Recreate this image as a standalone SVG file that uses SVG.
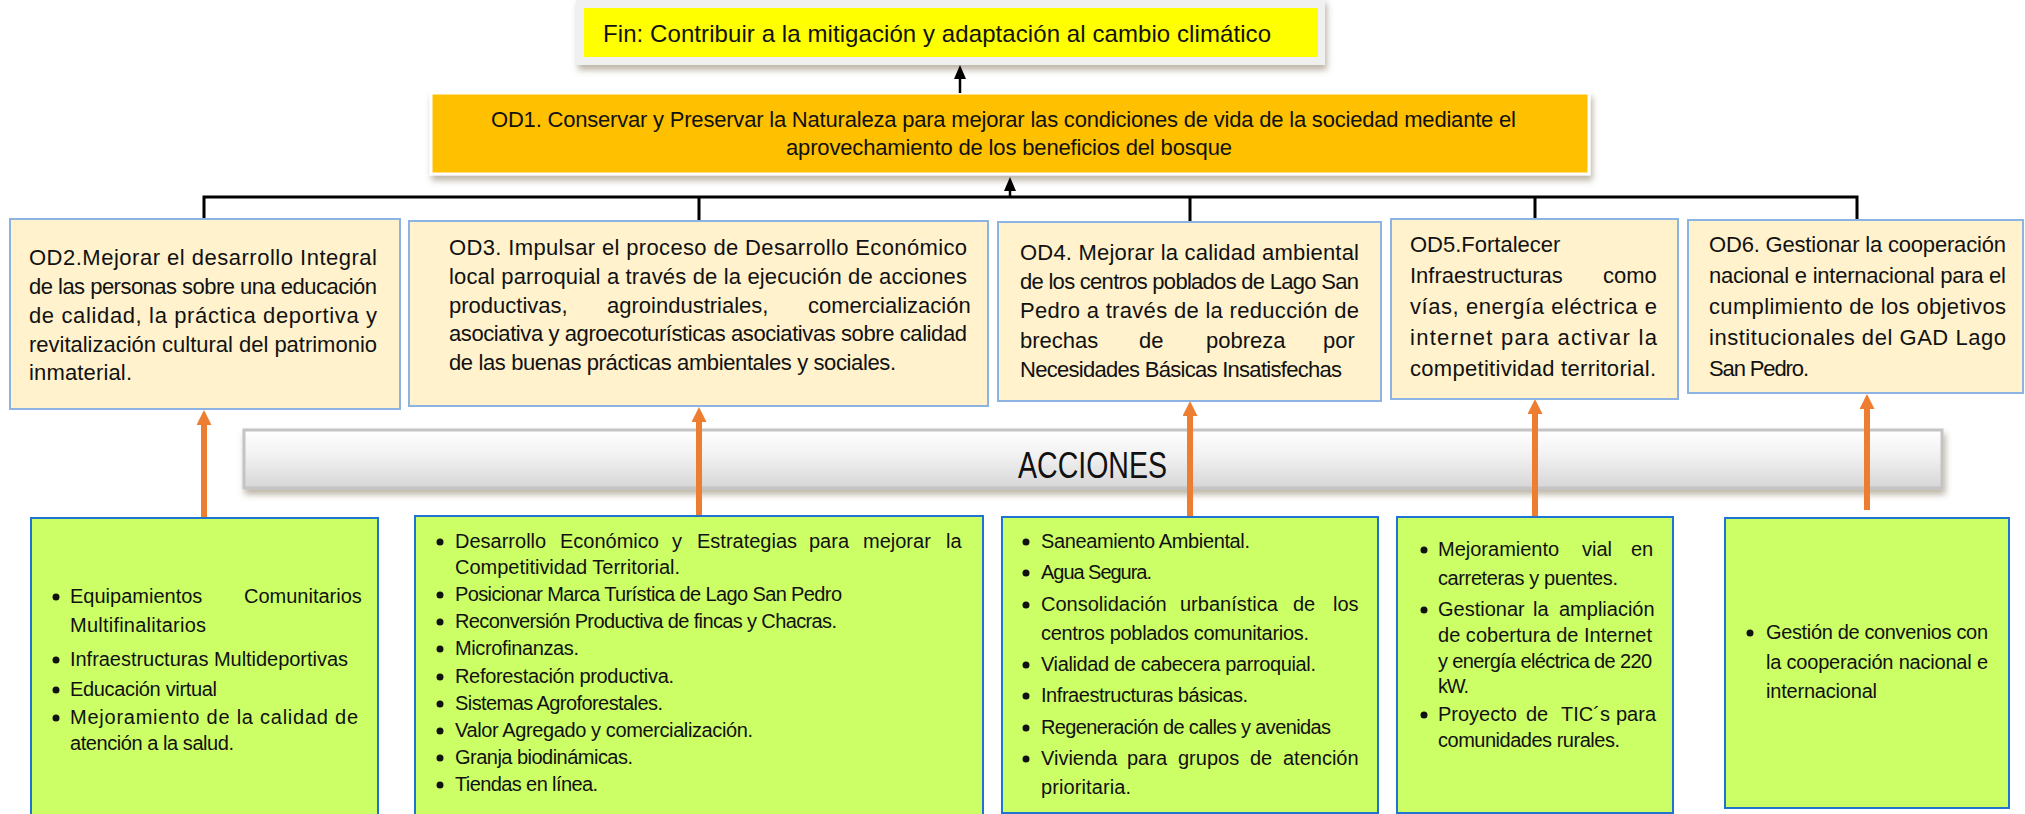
<svg xmlns="http://www.w3.org/2000/svg" width="2025" height="814" viewBox="0 0 2025 814">
<defs>
<style>
text{font-family:"Liberation Sans",Arial,sans-serif;fill:#111}
.f22{font-size:22px}
.f20{font-size:20px}
.od{fill:#FFF2CC;stroke:#8DB3E2;stroke-width:2}
.gr{fill:#CCFF66;stroke:#1F74D2;stroke-width:2}
.ora{stroke:#ED7D31;stroke-width:6;fill:none}
.blk{stroke:#000;stroke-width:3;fill:none}
.bul{fill:#111}
</style>
<filter id="sh" x="-5%" y="-30%" width="110%" height="170%">
<feDropShadow dx="2" dy="5" stdDeviation="3" flood-color="#6b5a3a" flood-opacity="0.45"/>
</filter>
<linearGradient id="barg" x1="0" y1="0" x2="0" y2="1">
<stop offset="0" stop-color="#FFFFFF"/>
<stop offset="0.45" stop-color="#F1F1F1"/>
<stop offset="1" stop-color="#D6D6D6"/>
</linearGradient>
<marker id="oa" viewBox="0 0 15 15" refX="2" refY="7.5" markerWidth="15" markerHeight="15" markerUnits="userSpaceOnUse" orient="auto">
<path d="M0,0 L15,7.5 L0,15 Z" fill="#ED7D31"/>
</marker>
<marker id="ba" viewBox="0 0 14 12" refX="1" refY="6" markerWidth="14" markerHeight="12" markerUnits="userSpaceOnUse" orient="auto">
<path d="M0,0 L14,6 L0,12 Z" fill="#000"/>
</marker>
</defs>
<rect width="2025" height="814" fill="#fff"/>

<g id="fin">
<rect x="576" y="-2" width="749" height="67" fill="#F0F0F0" filter="url(#sh)"/>
<rect x="584" y="8" width="734" height="49" fill="#FFFF00"/>
<text x="603" y="42" style="font-size:24px" textLength="668">Fin: Contribuir a la mitigación y adaptación al cambio climático</text>
</g>

<g id="od1">
<rect x="431" y="93" width="1158" height="81" fill="#FFC000" stroke="#fff" stroke-width="3" filter="url(#sh)"/>
<text class="f22" x="491" y="127" textLength="1025">OD1. Conservar y Preservar la Naturaleza para mejorar las condiciones de vida de la sociedad mediante el</text>
<text class="f22" x="786" y="155" textLength="446">aprovechamiento de los beneficios del bosque</text>
</g>

<g id="acciones">
<rect x="244" y="430" width="1698" height="58" fill="url(#barg)" stroke="#C4C4C4" stroke-width="3" filter="url(#sh)"/>
<text x="1018" y="478" style="font-size:36px" textLength="149" lengthAdjust="spacingAndGlyphs">ACCIONES</text>
</g>

<g id="connectors">
<path class="blk" d="M204,219 V197 H1857 V219 M699,197 V221 M1190,197 V222 M1535,197 V219"/>
<line x1="1010" y1="197" x2="1010" y2="190" stroke="#000" stroke-width="2.5" marker-end="url(#ba)"/>
<line x1="960" y1="93" x2="960" y2="78" stroke="#000" stroke-width="2.5" marker-end="url(#ba)"/>
<line class="ora" x1="204" y1="517" x2="204" y2="423" marker-end="url(#oa)"/>
<line class="ora" x1="699" y1="515" x2="699" y2="420" marker-end="url(#oa)"/>
<line class="ora" x1="1190" y1="517" x2="1190" y2="414" marker-end="url(#oa)"/>
<line class="ora" x1="1535" y1="517" x2="1535" y2="412" marker-end="url(#oa)"/>
<line class="ora" x1="1867" y1="510" x2="1867" y2="407" marker-end="url(#oa)"/>
</g>

<g id="od2">
<rect class="od" x="10" y="219" width="390" height="190"/>
<text class="f22" x="29" y="265" textLength="348">OD2.Mejorar el desarrollo Integral</text>
<text class="f22" x="29" y="294" textLength="348">de las personas sobre una educación</text>
<text class="f22" x="29" y="323" textLength="348">de calidad, la práctica deportiva y</text>
<text class="f22" x="29" y="352" textLength="348">revitalización cultural del patrimonio</text>
<text class="f22" x="29" y="380" textLength="103">inmaterial.</text>
</g>

<g id="od3">
<rect class="od" x="409" y="221" width="579" height="185"/>
<text class="f22" x="449" y="255" textLength="518">OD3. Impulsar el proceso de Desarrollo Económico</text>
<text class="f22" x="449" y="284" textLength="518">local parroquial a través de la ejecución de acciones</text>
<text class="f22" y="313"><tspan x="449">productivas,</tspan><tspan x="607">agroindustriales,</tspan><tspan x="808">comercialización</tspan></text>
<text class="f22" x="449" y="341" textLength="518">asociativa y agroecoturísticas asociativas sobre calidad</text>
<text class="f22" x="449" y="370" textLength="447">de las buenas prácticas ambientales y sociales.</text>
</g>

<g id="od4">
<rect class="od" x="998" y="222" width="383" height="179"/>
<text class="f22" x="1020" y="260" textLength="339">OD4. Mejorar la calidad ambiental</text>
<text class="f22" x="1020" y="289" textLength="339">de los centros poblados de Lago San</text>
<text class="f22" x="1020" y="318" textLength="339">Pedro a través de la reducción de</text>
<text class="f22" y="348"><tspan x="1020">brechas</tspan><tspan x="1139">de</tspan><tspan x="1206">pobreza</tspan><tspan x="1323">por</tspan></text>
<text class="f22" x="1020" y="377" textLength="322">Necesidades Básicas Insatisfechas</text>
</g>

<g id="od5">
<rect class="od" x="1391" y="219" width="287" height="180"/>
<text class="f22" x="1410" y="252">OD5.Fortalecer</text>
<text class="f22" y="283"><tspan x="1410">Infraestructuras</tspan><tspan x="1603">como</tspan></text>
<text class="f22" x="1410" y="314" textLength="247">vías, energía eléctrica e</text>
<text class="f22" x="1410" y="345" textLength="247">internet para activar la</text>
<text class="f22" x="1410" y="376" textLength="246">competitividad territorial.</text>
</g>

<g id="od6">
<rect class="od" x="1688" y="220" width="335" height="173"/>
<text class="f22" x="1709" y="252" textLength="297">OD6. Gestionar la cooperación</text>
<text class="f22" x="1709" y="283" textLength="297">nacional e internacional para el</text>
<text class="f22" x="1709" y="314" textLength="297">cumplimiento de los objetivos</text>
<text class="f22" x="1709" y="345" textLength="297">institucionales del GAD Lago</text>
<text class="f22" x="1709" y="376" textLength="100">San Pedro.</text>
</g>

<g id="acc1">
<rect class="gr" x="31" y="518" width="347" height="310"/>
<circle class="bul" cx="56" cy="597" r="3.5"/>
<text class="f20" y="603"><tspan x="70">Equipamientos</tspan><tspan x="244">Comunitarios</tspan></text>
<text class="f20" x="70" y="632" textLength="136">Multifinalitarios</text>
<circle class="bul" cx="56" cy="660" r="3.5"/>
<text class="f20" x="70" y="666" textLength="278">Infraestructuras Multideportivas</text>
<circle class="bul" cx="56" cy="690" r="3.5"/>
<text class="f20" x="70" y="696" textLength="147">Educación virtual</text>
<circle class="bul" cx="56" cy="718" r="3.5"/>
<text class="f20" x="70" y="724" textLength="288">Mejoramiento de la calidad de</text>
<text class="f20" x="70" y="750" textLength="164">atención a la salud.</text>
</g>

<g id="acc2">
<rect class="gr" x="415" y="516" width="568" height="310"/>
<circle class="bul" cx="440" cy="542" r="3.5"/>
<text class="f20" y="548"><tspan x="455">Desarrollo</tspan><tspan x="560">Económico</tspan><tspan x="672">y</tspan><tspan x="697">Estrategias</tspan><tspan x="809">para</tspan><tspan x="863">mejorar</tspan><tspan x="946">la</tspan></text>
<text class="f20" x="455" y="574" textLength="225">Competitividad Territorial.</text>
<circle class="bul" cx="440" cy="595" r="3.5"/>
<text class="f20" x="455" y="601" textLength="387">Posicionar Marca Turística de Lago San Pedro</text>
<circle class="bul" cx="440" cy="622" r="3.5"/>
<text class="f20" x="455" y="628" textLength="382">Reconversión Productiva de fincas y Chacras.</text>
<circle class="bul" cx="440" cy="649" r="3.5"/>
<text class="f20" x="455" y="655" textLength="124">Microfinanzas.</text>
<circle class="bul" cx="440" cy="677" r="3.5"/>
<text class="f20" x="455" y="683" textLength="219">Reforestación productiva.</text>
<circle class="bul" cx="440" cy="704" r="3.5"/>
<text class="f20" x="455" y="710" textLength="208">Sistemas Agroforestales.</text>
<circle class="bul" cx="440" cy="731" r="3.5"/>
<text class="f20" x="455" y="737" textLength="298">Valor Agregado y comercialización.</text>
<circle class="bul" cx="440" cy="758" r="3.5"/>
<text class="f20" x="455" y="764" textLength="178">Granja biodinámicas.</text>
<circle class="bul" cx="440" cy="785" r="3.5"/>
<text class="f20" x="455" y="791" textLength="143">Tiendas en línea.</text>
</g>

<g id="acc3">
<rect class="gr" x="1002" y="517" width="376" height="296"/>
<circle class="bul" cx="1026" cy="542" r="3.5"/>
<text class="f20" x="1041" y="548" textLength="209">Saneamiento Ambiental.</text>
<circle class="bul" cx="1026" cy="573" r="3.5"/>
<text class="f20" x="1041" y="579" textLength="111">Agua Segura.</text>
<circle class="bul" cx="1026" cy="605" r="3.5"/>
<text class="f20" y="611"><tspan x="1041">Consolidación</tspan><tspan x="1180">urbanística</tspan><tspan x="1293">de</tspan><tspan x="1333">los</tspan></text>
<text class="f20" x="1041" y="640" textLength="268">centros poblados comunitarios.</text>
<circle class="bul" cx="1026" cy="665" r="3.5"/>
<text class="f20" x="1041" y="671" textLength="275">Vialidad de cabecera parroquial.</text>
<circle class="bul" cx="1026" cy="696" r="3.5"/>
<text class="f20" x="1041" y="702" textLength="207">Infraestructuras básicas.</text>
<circle class="bul" cx="1026" cy="728" r="3.5"/>
<text class="f20" x="1041" y="734" textLength="290">Regeneración de calles y avenidas</text>
<circle class="bul" cx="1026" cy="759" r="3.5"/>
<text class="f20" y="765"><tspan x="1041">Vivienda</tspan><tspan x="1127">para</tspan><tspan x="1178">grupos</tspan><tspan x="1250">de</tspan><tspan x="1283">atención</tspan></text>
<text class="f20" x="1041" y="794" textLength="90">prioritaria.</text>
</g>

<g id="acc4">
<rect class="gr" x="1397" y="517" width="276" height="296"/>
<circle class="bul" cx="1424" cy="550" r="3.5"/>
<text class="f20" y="556"><tspan x="1438">Mejoramiento</tspan><tspan x="1582">vial</tspan><tspan x="1631">en</tspan></text>
<text class="f20" x="1438" y="585" textLength="180">carreteras y puentes.</text>
<circle class="bul" cx="1424" cy="610" r="3.5"/>
<text class="f20" y="616"><tspan x="1438">Gestionar</tspan><tspan x="1533">la</tspan><tspan x="1559">ampliación</tspan></text>
<text class="f20" x="1438" y="642" textLength="214">de cobertura de Internet</text>
<text class="f20" x="1438" y="668" textLength="214">y energía eléctrica de 220</text>
<text class="f20" x="1438" y="693" textLength="31">kW.</text>
<circle class="bul" cx="1424" cy="715" r="3.5"/>
<text class="f20" y="721"><tspan x="1438">Proyecto</tspan><tspan x="1526">de</tspan><tspan x="1561">TIC´s</tspan><tspan x="1616">para</tspan></text>
<text class="f20" x="1438" y="747" textLength="182">comunidades rurales.</text>
</g>

<g id="acc5">
<rect class="gr" x="1725" y="518" width="284" height="290"/>
<circle class="bul" cx="1750" cy="633" r="3.5"/>
<text class="f20" x="1766" y="639" textLength="222">Gestión de convenios con</text>
<text class="f20" x="1766" y="669" textLength="222">la cooperación nacional e</text>
<text class="f20" x="1766" y="698" textLength="111">internacional</text>
</g>
</svg>
